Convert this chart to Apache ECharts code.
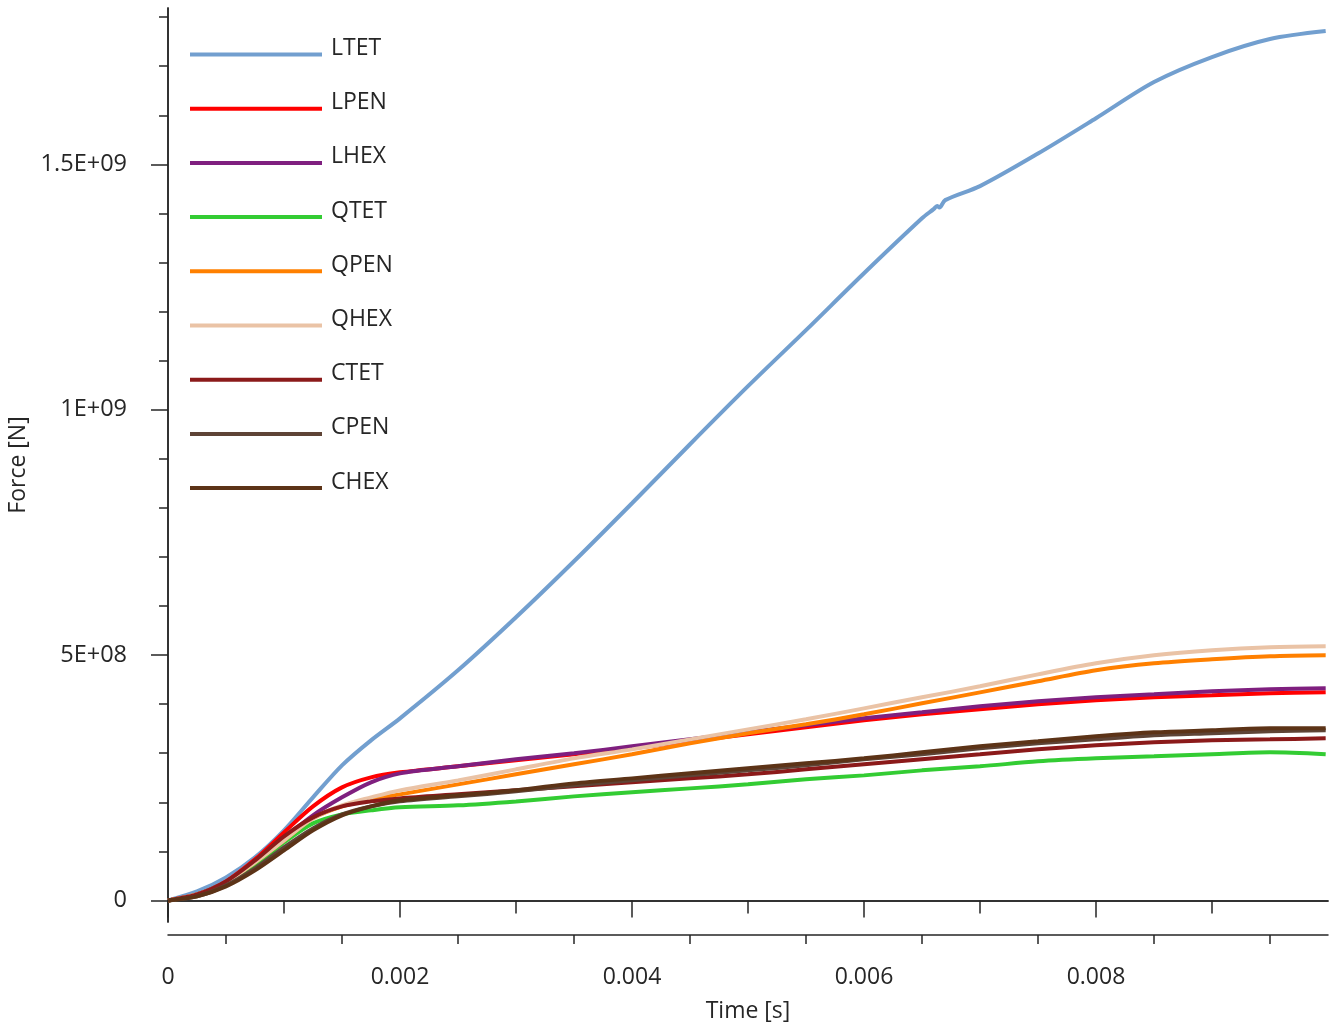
<!DOCTYPE html>
<html>
<head>
<meta charset="utf-8">
<script src="https://cdn.jsdelivr.net/npm/echarts@6/dist/echarts.min.js"></script>
<style>
html,body{margin:0;padding:0;background:#fff;}
#chart{width:1339px;height:1024px;}
</style>
</head>
<body>
<div id="chart"></div>
<script>
// ---- data ----
const timeS = [0,0.00025,0.0005,0.00075,0.001,0.00125,0.0015,0.00175,0.002,0.0025,0.003,0.0035,0.004,0.0045,0.005,0.0055,0.006,0.0065,0.007,0.0075,0.008,0.0085,0.009,0.0095,0.00998];
const ltetTimeS = [0,0.00025,0.0005,0.00075,0.001,0.00125,0.0015,0.00175,0.002,0.0025,0.003,0.0035,0.004,0.0045,0.005,0.0055,0.006,0.0065,0.0066,0.00663,0.00665,0.0067,0.007,0.0075,0.008,0.0085,0.009,0.0095,0.00998];

const seriesNames = ['LTET','LPEN','LHEX','QTET','QPEN','QHEX','CTET','CPEN','CHEX'];

const LTET = [0,1.83e7,4.69e7,8.77e7,1.427e8,2.10e8,2.752e8,3.262e8,3.71e8,4.689e8,5.77e8,6.911e8,8.094e8,9.296e8,1.0479e9,1.1621e9,1.278e9,1.390e9,1.4087e9,1.415e9,1.412e9,1.4271e9,1.4556e9,1.522e9,1.594e9,1.6677e9,1.7186e9,1.7553e9,1.7716e9];
const LPEN = [0,1.22e7,3.87e7,8.36e7,1.386e8,1.916e8,2.304e8,2.508e8,2.61e8,2.732e8,2.854e8,2.977e8,3.099e8,3.242e8,3.384e8,3.527e8,3.67e8,3.792e8,3.894e8,3.996e8,4.077e8,4.139e8,4.179e8,4.22e8,4.24e8];
const LHEX = [0,1.22e7,3.67e7,7.75e7,1.264e8,1.733e8,2.10e8,2.406e8,2.589e8,2.732e8,2.875e8,2.997e8,3.14e8,3.282e8,3.425e8,3.568e8,3.71e8,3.833e8,3.955e8,4.057e8,4.139e8,4.20e8,4.261e8,4.302e8,4.322e8];
const QTET = [0,1.02e7,3.26e7,7.14e7,1.182e8,1.57e8,1.753e8,1.835e8,1.896e8,1.937e8,2.018e8,2.12e8,2.202e8,2.283e8,2.365e8,2.467e8,2.548e8,2.65e8,2.732e8,2.834e8,2.895e8,2.936e8,2.977e8,3.017e8,2.977e8];
const QPEN = [0,1.22e7,3.67e7,7.75e7,1.223e8,1.672e8,1.916e8,2.059e8,2.161e8,2.365e8,2.569e8,2.773e8,2.977e8,3.201e8,3.405e8,3.588e8,3.792e8,4.016e8,4.24e8,4.465e8,4.689e8,4.832e8,4.913e8,4.974e8,4.995e8];
const QHEX = [0,1.22e7,3.67e7,7.75e7,1.223e8,1.672e8,1.937e8,2.10e8,2.243e8,2.446e8,2.671e8,2.895e8,3.078e8,3.282e8,3.486e8,3.69e8,3.914e8,4.139e8,4.363e8,4.607e8,4.832e8,4.995e8,5.097e8,5.158e8,5.178e8];
const CTET = [0,1.22e7,3.87e7,8.15e7,1.305e8,1.692e8,1.916e8,2.018e8,2.079e8,2.161e8,2.243e8,2.324e8,2.406e8,2.487e8,2.569e8,2.671e8,2.773e8,2.875e8,2.977e8,3.078e8,3.16e8,3.221e8,3.262e8,3.282e8,3.303e8];
const CPEN = [0,8.2e6,3.06e7,6.52e7,1.081e8,1.468e8,1.753e8,1.916e8,2.018e8,2.12e8,2.222e8,2.345e8,2.446e8,2.548e8,2.65e8,2.752e8,2.875e8,2.977e8,3.099e8,3.201e8,3.282e8,3.364e8,3.405e8,3.445e8,3.466e8];
const CHEX = [0,8.2e6,2.85e7,6.12e7,1.019e8,1.427e8,1.733e8,1.916e8,2.039e8,2.141e8,2.243e8,2.385e8,2.487e8,2.589e8,2.691e8,2.793e8,2.895e8,3.017e8,3.14e8,3.242e8,3.343e8,3.425e8,3.466e8,3.507e8,3.507e8];

const seriesTimes = [ltetTimeS, timeS, timeS, timeS, timeS, timeS, timeS, timeS, timeS];
const seriesValues = [LTET, LPEN, LHEX, QTET, QPEN, QHEX, CTET, CPEN, CHEX];
const seriesColors = ['#729fcf','#ff0000','#7f1f7f','#33cc33','#ff8000','#eac3a6','#8b1a1a','#5e4436','#5c3317'];

// axis ticks
const xMajorTicks = [0,0.002,0.004,0.006,0.008];
const xMajorLabels = ['0','0.002','0.004','0.006','0.008'];
const xMidTicks = [0.001,0.003,0.005,0.007,0.009];
const xMinorTicks = [0.0005,0.0015,0.0025,0.0035,0.0045,0.0055,0.0065,0.0075,0.0085,0.0095];
const yMajorTicks = [0,5e8,1e9,1.5e9];
const yMajorLabels = ['0','5E+08','1E+09','1.5E+09'];
const yMinorTicks = [1e8,2e8,3e8,4e8,6e8,7e8,8e8,9e8,1.1e9,1.2e9,1.3e9,1.4e9,1.6e9,1.7e9,1.8e9];

const X_MIN = 0, X_MAX = 0.01;
const Y_MIN = -4.4e7, Y_MAX = 1.8186e9;

// ---- chart ----
const FONT = 'Open Sans';
const TXT = '#262626';
const chart = echarts.init(document.getElementById('chart'), null, {renderer:'canvas'});

function xAxisDef(ticks, len, labels, withName) {
  return {
    type: 'value', min: X_MIN, max: X_MAX, position: 'bottom', offset: 13,
    splitLine: {show:false},
    axisLine: {show: true, lineStyle: {color: TXT, width: 1.5}},
    axisTick: {show: true, length: len, customValues: ticks, lineStyle: {color: TXT, width: 1.5}},
    axisLabel: labels ? {
      show: true, customValues: ticks, margin: 31, fontFamily: FONT, fontSize: 23, color: TXT,
      formatter: function (v) { const i = ticks.indexOf(v); return i >= 0 ? labels[i] : ''; }
    } : {show: false},
    name: withName ? 'Time [s]' : '',
    nameLocation: 'middle', nameGap: 65,
    nameTextStyle: {fontFamily: FONT, fontSize: 23, color: TXT}
  };
}
function yAxisDef(ticks, len, labels, withName) {
  return {
    type: 'value', min: Y_MIN, max: Y_MAX, position: 'left', offset: 13,
    splitLine: {show:false},
    axisLine: {show: true, lineStyle: {color: TXT, width: 1.5}},
    axisTick: {show: true, length: len, customValues: ticks, lineStyle: {color: TXT, width: 1.5}},
    axisLabel: labels ? {
      show: true, customValues: ticks, margin: 28, fontFamily: FONT, fontSize: 23.5, color: TXT,
      padding: [4, 0, 0, 0],
      formatter: function (v) { const i = ticks.indexOf(v); return i >= 0 ? labels[i] : ''; }
    } : {show: false},
    name: withName ? 'Force [N]' : '',
    nameLocation: 'middle', nameGap: 120, nameRotate: 90,
    nameTextStyle: {fontFamily: FONT, fontSize: 23, color: TXT}
  };
}

const option = {
  animation: false,
  backgroundColor: '#ffffff',
  grid: {left: 168, right: 11, top: 8, bottom: 102, containLabel: false, outerBoundsMode: 'none'},
  xAxis: [
    xAxisDef(xMajorTicks, 17, xMajorLabels, true),
    xAxisDef(xMidTicks, 13, null, false),
    xAxisDef(xMinorTicks, 9, null, false)
  ],
  yAxis: [
    yAxisDef(yMajorTicks, 17, yMajorLabels, true),
    yAxisDef(yMinorTicks, 9, null, false)
  ],
  legend: {
    orient: 'vertical', left: 190, top: 37, padding: 0,
    icon: 'rect', itemWidth: 132, itemHeight: 4, itemGap: 19.7,
    formatter: function (name) { return '{a|' + name + '}\n{b| }'; },
    textStyle: {
      fontFamily: FONT, fontSize: 23, color: TXT,
      rich: {
        a: {fontFamily: FONT, fontSize: 23, color: TXT, lineHeight: 24, padding: [0, 0, 0, 4]},
        b: {fontSize: 10, lineHeight: 12}
      }
    },
    data: seriesNames
  },
  series: seriesNames.map(function (name, k) {
    return {
      name: name, type: 'line', xAxisIndex: 0, yAxisIndex: 0,
      showSymbol: false, smooth: 0.3,
      color: seriesColors[k],
      lineStyle: {width: 4, color: seriesColors[k]},
      data: seriesTimes[k].map(function (t, i) { return [t, seriesValues[k][i]]; })
    };
  })
};
chart.setOption(option);
</script>
</body>
</html>
